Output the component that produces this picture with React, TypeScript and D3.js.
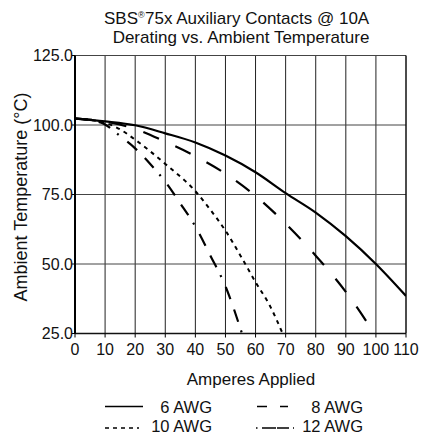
import React from "react";
import * as d3 from "d3";

const xTicks = [0, 10, 20, 30, 40, 50, 60, 70, 80, 90, 100, 110];
const yTicks = [25, 50, 75, 100, 125];
const yTickLabels = ["25.0", "50.0", "75.0", "100.0", "125.0"];

const amps6 = [0, 10, 20, 30, 40, 50, 60, 70, 80, 90, 100, 110];
const temp6 = [102.3, 101.3, 99.9, 97, 93.7, 89, 83, 75.5, 68.5, 60, 50, 38.5];

const amps8 = [0, 10, 20, 30, 40, 50, 60, 70, 80, 90, 99.5];
const temp8 = [102.3, 101.2, 98.6, 94, 88.8, 82.5, 74.5, 64.5, 53, 40, 25];

const amps10 = [0, 10, 15, 20, 30, 40, 45, 50, 55, 60, 65, 69];
const temp10 = [102.3, 100.8, 98.4, 94.7, 86, 76.2, 69.5, 62, 53, 43.5, 34.5, 25];

const amps12 = [0, 5, 10, 15, 20, 25, 30, 35, 40, 45, 50, 55.5];
const temp12 = [102.3, 101.8, 100.2, 96, 91.6, 86, 79.6, 71.8, 63.5, 53, 42, 25];

const seriesNames = ["6 AWG", "8 AWG", "10 AWG", "12 AWG"];

const FONT = "Arial, 'Liberation Sans', Helvetica, sans-serif";

export default function App() {
  const W = 425;
  const H = 436;
  const x = d3.scaleLinear().domain([0, 110]).range([75, 406]);
  const y = d3.scaleLinear().domain([25, 125]).range([333.5, 55.5]);

  const line = d3
    .line<[number, number]>()
    .x((d) => x(d[0]))
    .y((d) => y(d[1]))
    .curve(d3.curveMonotoneX);

  const zip = (a: number[], b: number[]) => a.map((v, i) => [v, b[i]] as [number, number]);

  const series = [
    { name: seriesNames[0], data: zip(amps6, temp6), dash: "none", w: 2.2 },
    { name: seriesNames[1], data: zip(amps8, temp8), dash: "17,18", w: 2.2 },
    { name: seriesNames[2], data: zip(amps10, temp10), dash: "4,4.5", w: 2 },
    { name: seriesNames[3], data: zip(amps12, temp12), dash: "13,11,13,9,2,11", w: 2.2 },
  ];

  const [x0, x1] = x.range();
  const [yb, yt] = y.range();

  return (
    <svg
      width={W}
      height={H}
      style={{ position: "absolute", left: 0, top: 0, background: "#fff" }}
      fontFamily={FONT}
    >
      <rect x={0} y={0} width={W} height={H} fill="#fff" />
      {/* Title */}
      <text x={104} y={23.5} textAnchor="start" fontSize={17} fill="#111">SBS</text>
      <text x={138} y={17.5} textAnchor="start" fontSize={9} fill="#111">®</text>
      <text x={145} y={23.5} textAnchor="start" fontSize={17} fill="#111">
        75x Auxiliary Contacts @ 10A
      </text>
      <text x={241} y={43} textAnchor="middle" fontSize={17} fill="#111">
        Derating vs. Ambient Temperature
      </text>

      {/* Grid */}
      {xTicks.slice(1, -1).map((t) => (
        <line key={"vx" + t} x1={x(t)} x2={x(t)} y1={yt} y2={yb} stroke="#222" strokeWidth={1} />
      ))}
      {yTicks.slice(1, -1).map((t) => (
        <line key={"hy" + t} x1={x0} x2={x1} y1={y(t)} y2={y(t)} stroke="#444" strokeWidth={1} />
      ))}
      {/* Border */}
      <line x1={x0} x2={x1} y1={yt} y2={yt} stroke="#444" strokeWidth={1} />
      <line x1={x0} x2={x1} y1={yb} y2={yb} stroke="#111" strokeWidth={1.5} />
      <line x1={x1} x2={x1} y1={yt} y2={yb} stroke="#111" strokeWidth={1.5} />
      <line x1={x0} x2={x0} y1={yt} y2={yb} stroke="#000" strokeWidth={2} />

      {/* Y ticks */}
      {yTicks.map((t, i) => (
        <g key={"yt" + t}>
          <line x1={x0 - 3} x2={x0} y1={y(t)} y2={y(t)} stroke="#000" strokeWidth={1} />
          <text x={x0 - 2} y={y(t)} dy="0.36em" textAnchor="end" fontSize={16} fill="#111">
            {yTickLabels[i]}
          </text>
        </g>
      ))}
      {/* X ticks */}
      {xTicks.map((t) => (
        <g key={"xt" + t}>
          <line x1={x(t)} x2={x(t)} y1={yb} y2={yb + 4} stroke="#000" strokeWidth={1} />
          <text x={x(t)} y={355} textAnchor="middle" fontSize={16} fill="#111">
            {t}
          </text>
        </g>
      ))}

      {/* Axis titles */}
      <text x={251} y={385} textAnchor="middle" fontSize={17} fill="#111">
        Amperes Applied
      </text>
      <text
        transform={`translate(27,197) rotate(-90)`}
        textAnchor="middle"
        fontSize={18}
        fill="#111"
      >
        Ambient Temperature (°C)
      </text>

      {/* Curves */}
      <defs>
        <clipPath id="plotclip">
          <rect x={x0} y={yt} width={x1 - x0} height={yb - yt} />
        </clipPath>
      </defs>
      <g clipPath="url(#plotclip)">
        {series.map((s) => (
          <path
            key={s.name}
            d={line(s.data) || ""}
            fill="none"
            stroke="#000"
            strokeWidth={s.w}
            strokeDasharray={s.dash}
          />
        ))}
      </g>

      {/* Legend */}
      <line x1={105} x2={143} y1={406.5} y2={406.5} stroke="#000" strokeWidth={1.5} />
      <text x={212} y={413} textAnchor="end" fontSize={16.5} fill="#111">{seriesNames[0]}</text>
      <line x1={257} x2={288} y1={406.5} y2={406.5} stroke="#000" strokeWidth={1.5} strokeDasharray="10,13" />
      <text x={363} y={413} textAnchor="end" fontSize={16.5} fill="#111">{seriesNames[1]}</text>
      <line x1={105} x2={139} y1={428} y2={428} stroke="#000" strokeWidth={1.5} strokeDasharray="4,4" />
      <text x={212} y={432} textAnchor="end" fontSize={16.5} fill="#111">{seriesNames[2]}</text>
      <line x1={256} x2={294} y1={428} y2={428} stroke="#000" strokeWidth={1.5} strokeDasharray="1.5,4.5,14,1,12,4,1.5" />
      <text x={363} y={432} textAnchor="end" fontSize={16.5} fill="#111">{seriesNames[3]}</text>
    </svg>
  );
}
